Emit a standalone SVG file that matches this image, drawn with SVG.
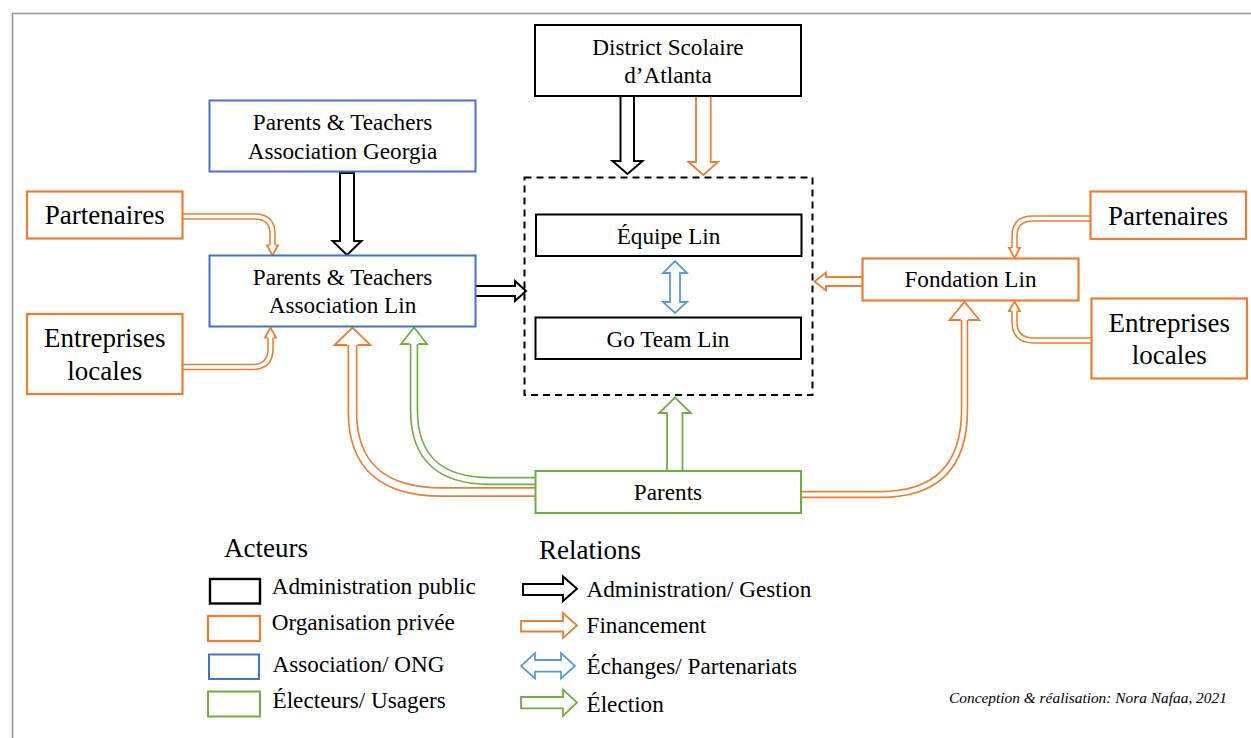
<svg xmlns="http://www.w3.org/2000/svg" width="1251" height="738" viewBox="0 0 1251 738">
<style>
text{font-family:"Liberation Serif","Times New Roman",serif;fill:#000;}
.t{font-size:23.2px;text-anchor:middle;}
.tl{font-size:27px;text-anchor:middle;}
.lg{font-size:23.2px;}
.hd{font-size:27px;}
.cr{font-size:15.4px;font-style:italic;}
.bk{fill:#fff;stroke:#000;stroke-width:2;}
.or{fill:#fff;stroke:#ED7D31;stroke-width:2.2;}
.bl{fill:#fff;stroke:#4472C4;stroke-width:2;}
.gr{fill:#fff;stroke:#70AD47;stroke-width:2;}
.ab{fill:#fff;stroke:#000;stroke-width:2;stroke-linejoin:miter;}
.ao{fill:#fff;stroke:#ED7D31;stroke-width:1.8;}
.ag{fill:#fff;stroke:#70AD47;stroke-width:1.8;}
.au{fill:#fff;stroke:#5B9BD5;stroke-width:1.8;}
.so{fill:none;stroke:#ED7D31;}
.sg{fill:none;stroke:#70AD47;}
.sw{fill:none;stroke:#fff;}
</style>
<rect x="12.5" y="13.5" width="1300" height="800" fill="#fff" stroke="#999" stroke-width="1.6"/>

<g id="connectors">
  <!-- District -> container (admin) -->
  <polygon class="ab" points="620.5,96 634,96 634,161 642.5,161 627.5,174 612.5,161 620.5,161"/>
  <!-- District -> container (financement) -->
  <polyline class="ao" points="696,96 696,162 688.5,162 703.3,175 718,162 710.7,162 710.7,96"/>
  <!-- PTA Georgia -> PTA Lin -->
  <polygon class="ab" points="340,173 354,173 354,241 361.5,241 347,255 332.5,241 340,241"/>
  <!-- PTA Lin -> container -->
  <polyline class="ab" points="476,286 515,286 515,281 526,291 515,301 515,296 476,296"/>
  <!-- Equipe <-> Go Team -->
  <polygon class="au" points="675,261 687,273 680,273 680,302 687,302 675,313 663,302 670,302 670,273 663,273"/>
  <!-- Fondation -> container -->
  <polyline class="ao" points="862,277 826,277 826,272.5 814.5,281.5 826,290.5 826,286 862,286"/>
  <!-- Parents -> container -->
  <polygon class="ag" points="667,471 667,413 659,413 675,397.5 691,413 682.5,413 682.5,471"/>

  <!-- Partenaires L -> PTA Lin -->
  <path class="so" stroke-width="6.5" d="M183 216.5 H255 Q272.5 216.5 272.5 234 V245.5"/>
  <path class="sw" stroke-width="3.4" d="M183 216.5 H255 Q272.5 216.5 272.5 234 V246"/>
  <polyline class="ao" stroke-width="1.6" points="269.3,245.5 267,245.5 272.5,255.5 278,245.5 275.7,245.5"/>

  <!-- Entreprises L -> PTA Lin -->
  <path class="so" stroke-width="6.5" d="M183 367 H252 Q270.5 367 270.5 349 V337.5"/>
  <path class="sw" stroke-width="3.4" d="M183 367 H252 Q270.5 367 270.5 349 V337"/>
  <polyline class="ao" stroke-width="1.6" points="267.3,337.5 265,337.5 270.5,327.5 276,337.5 273.7,337.5"/>

  <!-- Partenaires R -> Fondation -->
  <path class="so" stroke-width="6.5" d="M1090 218.5 H1033 Q1014.5 218.5 1014.5 236 V248"/>
  <path class="sw" stroke-width="3.4" d="M1090 218.5 H1033 Q1014.5 218.5 1014.5 236 V248.5"/>
  <polyline class="ao" stroke-width="1.6" points="1011.3,248 1009,248 1014.5,258 1020,248 1017.7,248"/>

  <!-- Entreprises R -> Fondation -->
  <path class="so" stroke-width="6.5" d="M1091 340.5 H1034 Q1014.5 340.5 1014.5 322 V311"/>
  <path class="sw" stroke-width="3.4" d="M1091 340.5 H1034 Q1014.5 340.5 1014.5 322 V310.5"/>
  <polyline class="ao" stroke-width="1.6" points="1011.3,311 1009,311 1014.5,301.5 1020,311 1017.7,311"/>

  <!-- Parents -> PTA Lin (financement) -->
  <path class="so" stroke-width="10" d="M535 492 H442 Q352.5 492 352.5 412 V345"/>
  <path class="sw" stroke-width="6.6" d="M535 492 H442 Q352.5 492 352.5 412 V344.5"/>
  <polyline class="ao" points="347.5,345 334.5,345 352.5,327.5 370.5,345 357.5,345"/>

  <!-- Parents -> PTA Lin (election) -->
  <path class="sg" stroke-width="8.5" d="M535 481 H490 Q414 481 414 410 V344"/>
  <path class="sw" stroke-width="5.2" d="M535 481 H490 Q414 481 414 410 V343.5"/>
  <polyline class="ag" points="409.8,344 401,344 414,327.5 427,344 418.2,344"/>

  <!-- Parents -> Fondation (financement) -->
  <path class="so" stroke-width="7.5" d="M801 494.5 H880 Q964.5 494.5 964.5 410 V320"/>
  <path class="sw" stroke-width="4.2" d="M801 494.5 H880 Q964.5 494.5 964.5 410 V319.5"/>
  <polyline class="ao" points="960.8,320 949.5,320 964.5,302 979.5,320 968.2,320"/>
</g>

<g id="district">
  <rect class="bk" x="535" y="25" width="266" height="71"/>
  <text class="t" x="668" y="54.5">District Scolaire</text>
  <text class="t" x="668" y="82.5">d’Atlanta</text>
</g>
<g id="pta-georgia">
  <rect class="bl" x="209.5" y="100.5" width="266" height="71"/>
  <text class="t" x="342.5" y="130">Parents &amp; Teachers</text>
  <text class="t" x="342.5" y="158.5">Association Georgia</text>
</g>
<g id="partenaires-left">
  <rect class="or" x="27" y="191.5" width="155.5" height="47"/>
  <text class="tl" x="104.7" y="224">Partenaires</text>
</g>
<g id="pta-lin">
  <rect class="bl" x="209.5" y="255.5" width="266" height="71"/>
  <text class="t" x="342.5" y="284.5">Parents &amp; Teachers</text>
  <text class="t" x="342.5" y="313">Association Lin</text>
</g>
<g id="entreprises-left">
  <rect class="or" x="27" y="314" width="155.5" height="80"/>
  <text class="tl" x="104.7" y="347">Entreprises</text>
  <text class="tl" x="104.7" y="379.5">locales</text>
</g>
<g id="container">
  <rect x="524.5" y="177.5" width="288" height="217.5" fill="none" stroke="#000" stroke-width="2" stroke-dasharray="7,5"/>
</g>
<g id="equipe-lin">
  <rect class="bk" x="536" y="214.5" width="265.5" height="41.5"/>
  <text class="t" x="668.5" y="244">Équipe Lin</text>
</g>
<g id="go-team-lin">
  <rect class="bk" x="535.5" y="317.5" width="265.5" height="41.5"/>
  <text class="t" x="668" y="346.5">Go Team Lin</text>
</g>
<g id="fondation-lin">
  <rect class="or" x="862.5" y="258.5" width="216" height="42"/>
  <text class="t" x="970.5" y="287">Fondation Lin</text>
</g>
<g id="partenaires-right">
  <rect class="or" x="1090.5" y="191.5" width="155.5" height="47.5"/>
  <text class="tl" x="1168" y="225">Partenaires</text>
</g>
<g id="entreprises-right">
  <rect class="or" x="1091.5" y="298.5" width="155.5" height="80"/>
  <text class="tl" x="1169.3" y="331.5">Entreprises</text>
  <text class="tl" x="1169.3" y="363.5">locales</text>
</g>
<g id="parents">
  <rect class="gr" x="535.5" y="471" width="265.5" height="42"/>
  <text class="t" x="668" y="500">Parents</text>
</g>

<g id="legend-acteurs">
  <text class="hd" x="224" y="556.5">Acteurs</text>
  <rect x="210" y="579" width="50" height="24.5" fill="#fff" stroke="#000" stroke-width="2.4"/>
  <rect class="or" x="208" y="616" width="52" height="25"/>
  <rect class="bl" x="209" y="654.5" width="50" height="24.5"/>
  <rect class="gr" x="208" y="691.5" width="52" height="25"/>
  <text class="lg" x="271.7" y="594">Administration public</text>
  <text class="lg" x="271.7" y="630">Organisation privée</text>
  <text class="lg" x="272.5" y="671.5">Association/ ONG</text>
  <text class="lg" x="272.5" y="708.3">Électeurs/ Usagers</text>
</g>
<g id="legend-relations">
  <text class="hd" x="539" y="559">Relations</text>
  <polygon class="ab" points="523,584 563,584 563,576.5 577,588.7 563,601 563,595 523,595"/>
  <polygon class="ao" points="521,621 563,621 563,613 577,625.5 563,638 563,631.5 521,631.5"/>
  <polygon class="au" points="521,666 535,653 535,660 561,660 561,653 575,666 561,678.5 561,671.7 535,671.7 535,678.5"/>
  <polygon class="ag" points="521,697 563,697 563,689.5 577,702.5 563,716 563,708.3 521,708.3"/>
  <text class="lg" x="586.5" y="597">Administration/ Gestion</text>
  <text class="lg" x="586.5" y="633">Financement</text>
  <text class="lg" x="586.5" y="674">Échanges/ Partenariats</text>
  <text class="lg" x="586.5" y="711.5">Élection</text>
</g>
<text class="cr" x="949" y="703">Conception &amp; réalisation: Nora Nafaa, 2021</text>
</svg>
